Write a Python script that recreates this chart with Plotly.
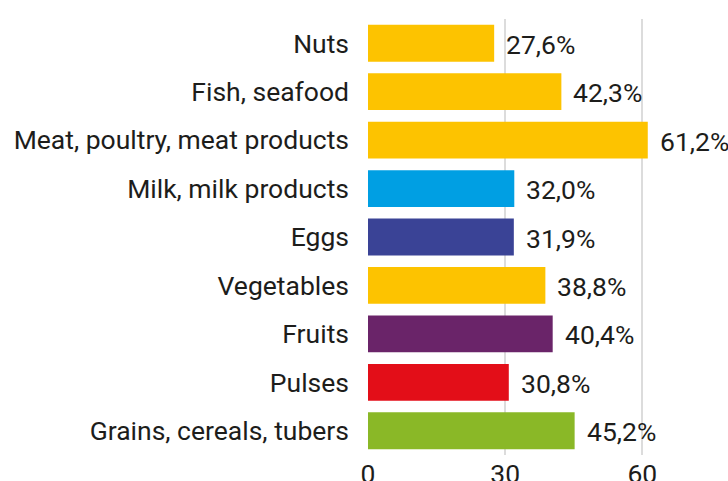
import plotly.graph_objects as go

# Share of food groups (%)
categories = [
    "Nuts",
    "Fish, seafood",
    "Meat, poultry, meat products",
    "Milk, milk products",
    "Eggs",
    "Vegetables",
    "Fruits",
    "Pulses",
    "Grains, cereals, tubers",
]
values = [27.6, 42.3, 61.2, 32.0, 31.9, 38.8, 40.4, 30.8, 45.2]
colors = [
    "#FDC300", "#FDC300", "#FDC300", "#009FE3", "#3A4396",
    "#FDC300", "#6A2469", "#E30E18", "#8AB827",
]
tick_vals = [0, 30, 60]

font_family = "Roboto, 'DejaVu Sans', sans-serif"
font_size = 26.5
font_weight = 400
text_color = "#1d1d1b"

fig = go.Figure(
    go.Bar(
        x=values,
        y=categories,
        orientation="h",
        marker=dict(color=colors, line=dict(width=0)),
        width=0.76,
        hoverinfo="skip",
    )
)

# value labels to the right of each bar
for cat, val in zip(categories, values):
    fig.add_annotation(
        x=val,
        y=cat,
        text=f"{val:.1f}%".replace(".", ","),
        showarrow=False,
        xanchor="left",
        yanchor="middle",
        xshift=10,
        yshift=-1,
        font=dict(family=font_family, size=font_size, weight=font_weight,
                  color=text_color),
    )

fig.update_layout(
    width=728,
    height=481,
    template="none",
    paper_bgcolor="white",
    plot_bgcolor="white",
    margin=dict(l=368, r=40, t=19, b=26),
    showlegend=False,
    bargap=0.24,
    font=dict(family=font_family, size=font_size, weight=font_weight,
              color=text_color),
)

fig.update_xaxes(
    range=[0, 70],
    tickvals=tick_vals,
    ticktext=[str(v) for v in tick_vals],
    showgrid=True,
    gridcolor="#dcdcdc",
    gridwidth=1.5,
    zeroline=False,
    showline=False,
    ticks="",
    automargin=False,
    tickfont=dict(family=font_family, size=font_size, weight=font_weight,
                  color=text_color),
)

fig.update_yaxes(
    categoryorder="array",
    categoryarray=list(reversed(categories)),
    showgrid=False,
    zeroline=False,
    showline=False,
    ticks="",
    ticklabelstandoff=18,
    automargin=False,
    tickfont=dict(family=font_family, size=font_size, weight=font_weight,
                  color=text_color),
)

fig.write_html("out.html")
